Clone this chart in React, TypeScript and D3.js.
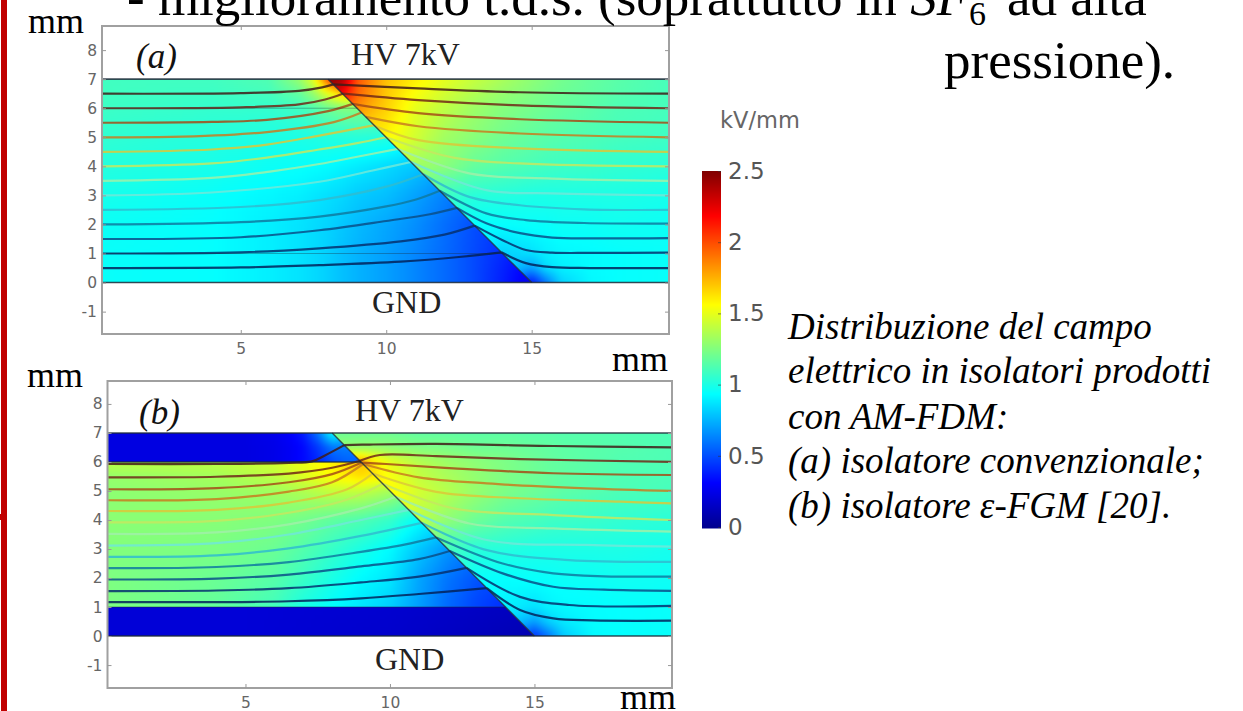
import React, { useEffect, useRef } from "react";
import * as d3 from "d3";

// field samples in kV/mm. rows follow the *Ys arrays, columns the *Xs arrays
const leftXsA = [0, 4, 6, 7, 7.5, 8, 8.5, 9, 10, 11, 12, 13, 14, 15, 16];
const leftYsA = [7, 6.5, 6, 5, 4, 3, 2, 1, 0.5, 0];
const leftValuesA = [
  [1.09, 1.09, 1.13, 1.3, 1.5, 2.0, 2.3, 2.3, 2.0, 1.8, 1.6, 1.4, 1.3, 1.2, 1.2],
  [1.09, 1.08, 1.1, 1.17, 1.3, 1.5, 1.7, 1.7, 1.6, 1.5, 1.4, 1.3, 1.2, 1.1, 1.1],
  [1.08, 1.06, 1.06, 1.09, 1.13, 1.2, 1.25, 1.25, 1.2, 1.1, 1.05, 1.0, 0.95, 0.9, 0.9],
  [1.05, 1.02, 1.0, 1.0, 1.01, 1.02, 1.02, 1.03, 1.02, 0.95, 0.9, 0.85, 0.8, 0.75, 0.75],
  [1.02, 0.99, 0.96, 0.95, 0.94, 0.93, 0.91, 0.89, 0.85, 0.8, 0.72, 0.66, 0.6, 0.55, 0.55],
  [0.99, 0.95, 0.92, 0.9, 0.88, 0.86, 0.84, 0.81, 0.78, 0.71, 0.63, 0.56, 0.5, 0.45, 0.45],
  [0.96, 0.94, 0.9, 0.87, 0.85, 0.83, 0.8, 0.77, 0.72, 0.66, 0.58, 0.5, 0.44, 0.4, 0.4],
  [0.95, 0.94, 0.9, 0.87, 0.85, 0.82, 0.78, 0.75, 0.7, 0.64, 0.57, 0.49, 0.41, 0.32, 0.3],
  [0.95, 0.94, 0.9, 0.87, 0.85, 0.82, 0.78, 0.75, 0.7, 0.64, 0.57, 0.49, 0.39, 0.28, 0.25],
  [0.95, 0.94, 0.9, 0.87, 0.85, 0.82, 0.78, 0.75, 0.7, 0.64, 0.57, 0.49, 0.38, 0.25, 0.2],
];

const rightXs = [8, 8.5, 9, 9.5, 10, 11, 12, 13, 14, 15, 15.5, 16, 17, 18, 20];
const rightYs = [7, 6.5, 6, 5, 4, 3, 2, 1, 0.5, 0];
const rightValuesA = [
  [2.5, 2.4, 2.0, 1.85, 1.72, 1.6, 1.5, 1.42, 1.35, 1.28, 1.25, 1.22, 1.18, 1.15, 1.1],
  [2.4, 2.2, 1.95, 1.82, 1.7, 1.55, 1.45, 1.37, 1.3, 1.25, 1.22, 1.2, 1.17, 1.14, 1.1],
  [2.2, 2.0, 1.85, 1.75, 1.68, 1.5, 1.4, 1.32, 1.26, 1.22, 1.2, 1.18, 1.15, 1.12, 1.1],
  [1.7, 1.65, 1.6, 1.6, 1.58, 1.45, 1.33, 1.27, 1.21, 1.17, 1.15, 1.14, 1.12, 1.1, 1.08],
  [1.5, 1.5, 1.47, 1.45, 1.45, 1.33, 1.27, 1.18, 1.14, 1.11, 1.09, 1.08, 1.07, 1.05, 1.03],
  [1.3, 1.3, 1.3, 1.3, 1.3, 1.2, 1.08, 1.03, 1.02, 1.0, 1.0, 1.0, 1.0, 1.0, 0.98],
  [1.1, 1.1, 1.1, 1.1, 1.1, 1.05, 1.0, 0.94, 0.94, 0.95, 0.95, 0.96, 0.96, 0.97, 0.96],
  [1.0, 1.0, 1.0, 1.0, 1.0, 1.0, 0.98, 0.95, 0.82, 0.86, 0.9, 0.92, 0.93, 0.94, 0.95],
  [0.9, 0.9, 0.9, 0.9, 0.9, 0.9, 0.9, 0.9, 0.85, 0.7, 0.85, 0.9, 0.93, 0.94, 0.95],
  [0.8, 0.8, 0.8, 0.8, 0.8, 0.8, 0.8, 0.8, 0.7, 0.35, 0.6, 0.82, 0.92, 0.94, 0.95],
];

const rightValuesB = [
  [1.2, 1.2, 1.2, 1.2, 1.2, 1.17, 1.17, 1.16, 1.16, 1.15, 1.15, 1.14, 1.14, 1.13, 1.12],
  [1.3, 1.3, 1.3, 1.3, 1.28, 1.25, 1.23, 1.2, 1.2, 1.18, 1.17, 1.16, 1.15, 1.14, 1.12],
  [1.8, 1.8, 1.8, 1.62, 1.5, 1.38, 1.32, 1.28, 1.24, 1.2, 1.18, 1.17, 1.15, 1.13, 1.12],
  [1.62, 1.62, 1.6, 1.62, 1.58, 1.45, 1.38, 1.3, 1.24, 1.2, 1.18, 1.16, 1.14, 1.12, 1.1],
  [1.5, 1.5, 1.5, 1.5, 1.5, 1.4, 1.28, 1.2, 1.14, 1.11, 1.09, 1.08, 1.07, 1.05, 1.03],
  [1.25, 1.25, 1.25, 1.25, 1.25, 1.25, 1.1, 1.03, 1.02, 1.0, 1.0, 1.0, 1.0, 1.0, 0.98],
  [1.05, 1.05, 1.05, 1.05, 1.05, 1.05, 1.05, 0.95, 0.94, 0.95, 0.95, 0.96, 0.96, 0.97, 0.96],
  [1.0, 1.0, 1.0, 1.0, 1.0, 1.0, 0.98, 0.95, 0.9, 0.86, 0.9, 0.92, 0.93, 0.94, 0.95],
  [0.9, 0.9, 0.9, 0.9, 0.9, 0.9, 0.9, 0.9, 0.85, 0.7, 0.82, 0.88, 0.93, 0.94, 0.95],
  [0.8, 0.8, 0.8, 0.8, 0.8, 0.8, 0.8, 0.8, 0.7, 0.42, 0.6, 0.8, 0.92, 0.94, 0.95],
];

const midXsB = [0, 4, 6, 7, 8, 9, 10, 11, 12, 13, 14, 15, 16];
const midYsB = [6, 5.5, 5, 4, 3, 2, 1];
const midValuesB = [
  [1.4, 1.4, 1.45, 1.52, 1.6, 1.72, 1.62, 1.5, 1.4, 1.3, 1.2, 1.1, 1.1],
  [1.3, 1.34, 1.4, 1.48, 1.56, 1.64, 1.56, 1.45, 1.3, 1.2, 1.1, 1.0, 1.0],
  [1.28, 1.31, 1.33, 1.37, 1.42, 1.42, 1.35, 1.25, 1.15, 1.05, 0.95, 0.85, 0.85],
  [1.28, 1.27, 1.25, 1.22, 1.17, 1.13, 1.07, 0.94, 0.85, 0.75, 0.7, 0.6, 0.6],
  [1.26, 1.24, 1.2, 1.14, 1.07, 1.0, 0.93, 0.8, 0.68, 0.6, 0.55, 0.5, 0.5],
  [1.25, 1.2, 1.15, 1.08, 1.0, 0.93, 0.88, 0.72, 0.6, 0.52, 0.48, 0.42, 0.42],
  [1.25, 1.18, 1.1, 1.0, 0.94, 0.88, 0.82, 0.7, 0.57, 0.48, 0.42, 0.38, 0.38],
];

const topXsB = [0, 5, 6, 6.5, 7, 7.5, 8, 8.5, 9];
const topYsB = [7, 6.5, 6];
const topValuesB = [
  [0.23, 0.23, 0.26, 0.3, 0.38, 0.6, 0.95, 0.8, 0.7],
  [0.23, 0.23, 0.25, 0.28, 0.33, 0.45, 0.6, 0.62, 0.6],
  [0.23, 0.23, 0.25, 0.28, 0.33, 0.4, 0.5, 0.55, 0.55],
];

const bottomXsB = [0, 5, 10, 13, 16];
const bottomYsB = [1, 0];
const bottomValuesB = [
  [0.2, 0.2, 0.18, 0.15, 0.12],
  [0.2, 0.2, 0.17, 0.13, 0.08],
];

// equipotentials in mm, one per potential
const potentials = [0.5, 1, 1.5, 2, 2.5, 3, 3.5, 4, 4.5, 5, 5.5, 6, 6.5];
const potentialColors = [
  "#04225a", "#06306f", "#0a4f88", "#0f7aa0", "#30bcd0", "#70e8d8", "#a0f0a8",
  "#c4e860", "#dcc838", "#c87c20", "#a44c18", "#702818", "#401c18",
];

const linesLeftA = [
  [[0.25, 0.5], [5, 0.52], [7.7, 0.6], [10.5, 0.72], [12.5, 0.88], [13.96, 1.04]],
  [[0.25, 1], [5, 1.04], [7.7, 1.18], [10.5, 1.42], [12, 1.65], [13.04, 1.96]],
  [[0.25, 1.5], [5, 1.56], [7.7, 1.8], [10, 2.12], [11.5, 2.35], [12.43, 2.57]],
  [[0.25, 2], [5, 2.08], [7.7, 2.27], [10, 2.62], [11, 2.85], [11.84, 3.16]],
  [[0.25, 2.5], [5, 2.6], [7.7, 2.84], [10, 3.3], [11.27, 3.73]],
  [[0.25, 3], [4, 3.1], [7.7, 3.47], [9.5, 3.85], [10.85, 4.15]],
  [[0.25, 3.5], [4, 3.6], [6, 3.82], [7.7, 4.08], [9, 4.33], [10.4, 4.6]],
  [[0.25, 4], [4, 4.1], [5.9, 4.3], [7.7, 4.58], [9, 4.8], [10, 5]],
  [[0.25, 4.5], [4, 4.58], [5.9, 4.75], [7.7, 5.06], [9.6, 5.42]],
  [[0.25, 5], [3, 5.02], [5.9, 5.18], [8.2, 5.52], [9.15, 5.85]],
  [[0.25, 5.5], [4, 5.53], [5.9, 5.6], [8, 5.9], [8.85, 6.15]],
  [[0.25, 6], [5, 6.03], [7, 6.13], [7.9, 6.3], [8.5, 6.5]],
  [[0.25, 6.5], [5, 6.52], [7, 6.6], [7.8, 6.72], [8.18, 6.82]],
];
const linesRightA = [
  [[13.96, 1.04], [14.8, 0.67], [15.7, 0.53], [17, 0.5], [19.7, 0.5]],
  [[13.04, 1.96], [14, 1.46], [14.8, 1.12], [15.7, 1.03], [17, 1.02], [19.7, 1.03]],
  [[12.43, 2.57], [13.44, 2.04], [14.6, 1.7], [15.7, 1.55], [17, 1.52], [19.7, 1.53]],
  [[11.84, 3.16], [13.44, 2.38], [14.8, 2.15], [16.8, 2.05], [19.7, 2.03]],
  [[11.27, 3.73], [12.85, 2.95], [14.6, 2.66], [16.8, 2.52], [19.7, 2.5]],
  [[10.85, 4.15], [13.44, 3.18], [15.7, 3.07], [19.7, 3.0]],
  [[10.4, 4.6], [12.85, 3.76], [15.7, 3.58], [19.7, 3.5]],
  [[10, 5], [12.3, 4.3], [14.6, 4.1], [19.7, 4.0]],
  [[9.6, 5.4], [11.1, 4.9], [14.6, 4.62], [19.7, 4.5]],
  [[9.3, 5.7], [11.1, 5.38], [14.6, 5.13], [19.7, 5.0]],
  [[8.85, 6.15], [11.1, 5.83], [14.6, 5.62], [19.7, 5.5]],
  [[8.5, 6.5], [11.1, 6.28], [14.6, 6.1], [19.7, 6.0]],
  [[8.18, 6.82], [11.1, 6.68], [14.6, 6.55], [19.7, 6.5]],
];

const linesLeftB = [
  [[0.25, 1.17], [4, 1.17], [6.5, 1.2], [9, 1.3], [11, 1.45], [13.35, 1.65]],
  [[0.25, 1.55], [4, 1.57], [6.5, 1.65], [9, 1.85], [11, 2.05], [12.65, 2.35]],
  [[0.25, 1.95], [4, 1.98], [6.5, 2.12], [9, 2.4], [11, 2.65], [12.07, 2.93]],
  [[0.25, 2.34], [4, 2.38], [6.5, 2.55], [9, 2.9], [10.5, 3.15], [11.6, 3.4]],
  [[0.25, 2.73], [4, 2.78], [6.5, 3.02], [9, 3.45], [11.1, 3.9]],
  [[0.25, 3.12], [4, 3.2], [6.5, 3.5], [9, 4], [10.65, 4.35]],
  [[0.25, 3.52], [4, 3.57], [6.5, 3.85], [9, 4.4], [10.2, 4.8]],
  [[0.25, 3.92], [4, 3.97], [6.5, 4.25], [8.5, 4.7], [9.75, 5.25]],
  [[0.25, 4.31], [4, 4.35], [6.5, 4.6], [8.5, 5.05], [9.4, 5.6]],
  [[0.25, 4.68], [4, 4.72], [6.5, 4.98], [8, 5.3], [9.07, 5.93]],
  [[0.25, 5.06], [4, 5.1], [6.5, 5.3], [8, 5.58], [9.02, 5.98]],
  [[0.25, 5.47], [4, 5.49], [6.5, 5.6], [8, 5.8], [8.96, 6.04]],
  [[0.25, 5.93], [4, 5.93], [6.5, 5.97], [7.3, 6.02], [7.7, 6.2], [8.42, 6.58]],
];
const linesRightB = [
  [[13.35, 1.65], [14.5, 0.9], [15.65, 0.61], [17, 0.54], [19.76, 0.53]],
  [[12.65, 2.35], [14.5, 1.35], [16.2, 1.07], [19.76, 1.04]],
  [[12.07, 2.93], [13.9, 2.16], [15.65, 1.7], [17.4, 1.6], [19.76, 1.56]],
  [[11.6, 3.4], [13.9, 2.5], [15.65, 2.16], [17.4, 2.06], [19.76, 2.05]],
  [[11.1, 3.9], [13.35, 2.96], [16.2, 2.62], [19.76, 2.56]],
  [[10.65, 4.35], [13.35, 3.31], [16.8, 3.14], [19.76, 3.08]],
  [[10.2, 4.8], [12.75, 3.88], [15.65, 3.71], [19.76, 3.6]],
  [[9.75, 5.25], [12.2, 4.4], [15.65, 4.17], [19.76, 4.0]],
  [[9.4, 5.6], [11.6, 4.97], [14.5, 4.75], [18, 4.63], [19.76, 4.57]],
  [[9.07, 5.93], [11, 5.47], [13.35, 5.26], [16.8, 5.09], [19.76, 5.0]],
  [[9.02, 5.98], [9.87, 5.93], [12.2, 5.78], [15.65, 5.61], [19.76, 5.55]],
  [[8.96, 6.04], [9.65, 6.24], [11.6, 6.2], [14.5, 6.1], [19.76, 6.0]],
  [[8.42, 6.58], [9.3, 6.6], [11.6, 6.62], [15.65, 6.55], [19.76, 6.5]],
];

const xTicks = [5, 10, 15];
const yTicks = [-1, 0, 1, 2, 3, 4, 5, 6, 7, 8];
const barTicks = [0, 0.5, 1, 1.5, 2, 2.5];
const jetStops = ["#00008f", "#0000ff", "#00ffff", "#ffff00", "#ff0000", "#800000"];
const jetValues = [0, 0.3125, 0.9375, 1.5625, 2.1875, 2.5];

const captionLines = [
  "Distribuzione del campo",
  "elettrico in isolatori prodotti",
  "con AM-FDM:",
  "(a) isolatore convenzionale;",
  "(b) isolatore ε-FGM [20].",
];
const captionBaselines = [339, 383, 429, 473, 518];

const jet = d3.scaleLinear<string>().domain(jetValues).range(jetStops).clamp(true);
const lineColor = d3.scaleOrdinal<number, string>().domain(potentials).range(potentialColors);
const SERIF = "'Liberation Serif', serif";
const SANS = "'DejaVu Sans', sans-serif";
const CELL = 4;

function fieldAt(xs, ys, values) {
  const rows = values.map((row) => d3.scaleLinear().domain(xs).range(row).clamp(true));
  return (x, y) => d3.scaleLinear().domain(ys).range(rows.map((r) => r(x))).clamp(true)(y);
}

function drawField(g, id, field, polygon, x, y) {
  const pts = polygon.map((p) => [x(p[0]), y(p[1])]);
  g.append("clipPath").attr("id", id).append("polygon").attr("points", pts.join(" "));
  const cells = g.append("g").attr("clip-path", `url(#${id})`).append("g").attr("filter", "url(#soft)");
  const value = fieldAt(field.xs, field.ys, field.values);
  const px = d3.range(d3.min(pts, (p) => p[0]) - 8, d3.max(pts, (p) => p[0]) + 8, CELL);
  const py = d3.range(d3.min(pts, (p) => p[1]) - 8, d3.max(pts, (p) => p[1]) + 8, CELL);
  py.forEach((cy) => {
    px.forEach((cx) => {
      cells
        .append("rect")
        .attr("x", cx)
        .attr("y", cy)
        .attr("width", CELL + 0.5)
        .attr("height", CELL + 0.5)
        .attr("fill", jet(value(x.invert(cx + CELL / 2), y.invert(cy + CELL / 2))));
    });
  });
}

function drawPanel(svg, p) {
  const { x, y } = p;
  const g = svg.append("g");
  const [xMin, xMax] = x.domain();
  const line = d3
    .line()
    .x((d) => x(d[0]))
    .y((d) => y(d[1]))
    .curve(d3.curveCatmullRom.alpha(0.5));

  p.fields.forEach((f, i) => drawField(g, `${p.id}-f${i}`, f, f.polygon, x, y));

  // equipotentials either side of the insulator edge
  const lines = g.append("g").attr("fill", "none").attr("filter", "url(#softLine)");
  [p.linesLeft, p.linesRight].forEach((set) => {
    set.forEach((pts, i) => {
      lines
        .append("path")
        .attr("d", line(pts))
        .attr("stroke", lineColor(potentials[i]))
        .attr("stroke-width", 2.2)
        .attr("stroke-opacity", 0.85);
    });
  });

  // layer boundaries, electrodes and the insulator edge
  p.boundaries.forEach((b) => {
    g.append("line")
      .attr("x1", x(b[0][0]))
      .attr("y1", y(b[0][1]))
      .attr("x2", x(b[1][0]))
      .attr("y2", y(b[1][1]))
      .attr("stroke", "#1c2a3a")
      .attr("stroke-width", b[2])
      .attr("stroke-opacity", b[3]);
  });

  g.append("rect")
    .attr("x", x(xMin))
    .attr("y", y.range()[1])
    .attr("width", x(xMax) - x(xMin))
    .attr("height", y.range()[0] - y.range()[1])
    .attr("fill", "none")
    .attr("stroke", "#a0a0a0")
    .attr("stroke-width", 2);

  const tickFont = (s) =>
    s.call((a) => a.select(".domain").remove())
      .call((a) => a.selectAll("line").attr("stroke", "#999"))
      .call((a) =>
        a
          .selectAll("text")
          .attr("font-family", SANS)
          .attr("font-size", 15.5)
          .attr("fill", "#666")
      );

  g.append("g")
    .attr("transform", `translate(0,${y.range()[0]})`)
    .call(d3.axisBottom(x).tickValues(xTicks).tickSizeInner(-4).tickPadding(9).tickSizeOuter(0).tickFormat(String))
    .call(tickFont);
  g.append("g")
    .attr("transform", `translate(0,${y.range()[1]})`)
    .call(d3.axisTop(x).tickValues(xTicks).tickSizeInner(-4).tickFormat(() => "").tickSizeOuter(0))
    .call(tickFont);
  g.append("g")
    .attr("transform", `translate(${x(xMin)},0)`)
    .call(d3.axisLeft(y).tickValues(yTicks).tickSizeInner(-4).tickPadding(5).tickSizeOuter(0).tickFormat(String))
    .call(tickFont);
  g.append("g")
    .attr("transform", `translate(${x(xMax)},0)`)
    .call(d3.axisRight(y).tickValues(yTicks).tickSizeInner(-4).tickFormat(() => "").tickSizeOuter(0))
    .call(tickFont);

  p.labels.forEach((l) => {
    g.append("text")
      .attr("x", l.x)
      .attr("y", l.y)
      .attr("font-family", SERIF)
      .attr("font-size", l.size)
      .attr("font-style", l.italic ? "italic" : "normal")
      .attr("fill", l.fill)
      .text(l.text);
  });
}

export default function App() {
  const ref = useRef<SVGSVGElement>(null);

  useEffect(() => {
    const svg = d3.select(ref.current);
    svg.selectAll("*").remove();

    const defs = svg.append("defs");
    const addBlur = (id, s) =>
      defs
        .append("filter")
        .attr("id", id)
        .attr("filterUnits", "userSpaceOnUse")
        .attr("x", 0)
        .attr("y", 0)
        .attr("width", 1243)
        .attr("height", 711)
        .attr("color-interpolation-filters", "sRGB")
        .append("feGaussianBlur")
        .attr("stdDeviation", s);
    addBlur("soft", 2);
    addBlur("softLine", 0.5);

    // red rule of the slide
    svg.append("rect").attr("x", 1).attr("y", 0).attr("width", 6).attr("height", 711).attr("fill", "#c00000");
    svg.append("rect").attr("x", 0).attr("y", 514).attr("width", 2).attr("height", 6).attr("fill", "#c00000");

    drawPanel(svg, {
      id: "a",
      x: d3.scaleLinear().domain([0.23, 19.72]).range([102, 669]),
      y: d3.scaleLinear().domain([-1.77, 8.83]).range([334, 26]),
      fields: [
        {
          xs: leftXsA,
          ys: leftYsA,
          values: leftValuesA,
          polygon: [[0.23, 7], [8, 7], [15, 0], [0.23, 0]],
        },
        {
          xs: rightXs,
          ys: rightYs,
          values: rightValuesA,
          polygon: [[8, 7], [19.72, 7], [19.72, 0], [15, 0]],
        },
      ],
      linesLeft: linesLeftA,
      linesRight: linesRightA,
      boundaries: [
        [[0.23, 7], [19.72, 7], 1.6, 0.85],
        [[0.23, 0], [19.72, 0], 1.6, 0.85],
        [[8, 7], [15, 0], 1.4, 0.8],
        [[0.23, 6], [9, 6], 1, 0.35],
        [[0.23, 1], [14, 1], 1, 0.35],
      ],
      labels: [
        { text: "(a)", x: 136, y: 68, size: 35, italic: true, fill: "#111" },
        { text: "HV 7kV", x: 351, y: 65, size: 32, fill: "#222" },
        { text: "GND", x: 372, y: 313, size: 32, fill: "#222" },
      ],
    });

    drawPanel(svg, {
      id: "b",
      x: d3.scaleLinear().domain([0.225, 19.76]).range([107.5, 672]),
      y: d3.scaleLinear().domain([-1.79, 8.79]).range([688, 381]),
      fields: [
        {
          xs: midXsB,
          ys: midYsB,
          values: midValuesB,
          polygon: [[0.225, 6], [9, 6], [14, 1], [0.225, 1]],
        },
        {
          xs: topXsB,
          ys: topYsB,
          values: topValuesB,
          polygon: [[0.225, 7], [8, 7], [9, 6], [0.225, 6]],
        },
        {
          xs: bottomXsB,
          ys: bottomYsB,
          values: bottomValuesB,
          polygon: [[0.225, 1], [14, 1], [15, 0], [0.225, 0]],
        },
        {
          xs: rightXs,
          ys: rightYs,
          values: rightValuesB,
          polygon: [[8, 7], [19.76, 7], [19.76, 0], [15, 0]],
        },
      ],
      linesLeft: linesLeftB,
      linesRight: linesRightB,
      boundaries: [
        [[0.225, 7], [19.76, 7], 1.6, 0.85],
        [[0.225, 0], [19.76, 0], 1.6, 0.85],
        [[8, 7], [15, 0], 1.4, 0.8],
        [[0.225, 6], [9, 6], 1.4, 0.8],
        [[0.225, 1], [14, 1], 1, 0.5],
      ],
      labels: [
        { text: "(b)", x: 139, y: 424, size: 35, italic: true, fill: "#111" },
        { text: "HV 7kV", x: 355, y: 421, size: 32, fill: "#222" },
        { text: "GND", x: 375, y: 670, size: 32, fill: "#222" },
      ],
    });

    // colour bar
    const barY = d3.scaleLinear().domain([0, 2.5]).range([527, 171]);
    const bar = svg.append("g").attr("filter", "url(#softLine)");
    d3.range(171, 528).forEach((py) => {
      bar
        .append("rect")
        .attr("x", 702)
        .attr("y", py)
        .attr("width", 19)
        .attr("height", 1.5)
        .attr("fill", jet(barY.invert(py)));
    });
    const barAxis = svg
      .append("g")
      .attr("transform", "translate(721,0)")
      .call(d3.axisRight(barY).tickValues(barTicks).tickSizeInner(-3).tickPadding(7).tickSizeOuter(0).tickFormat(d3.format("~g")));
    barAxis.select(".domain").remove();
    barAxis.selectAll("line").attr("stroke", "#333").attr("stroke-opacity", 0.6);
    barAxis.selectAll("text").attr("font-family", SANS).attr("font-size", 23).attr("fill", "#555");

    svg
      .append("text")
      .attr("x", 720)
      .attr("y", 128)
      .attr("font-family", SANS)
      .attr("font-size", 22.5)
      .attr("fill", "#666")
      .text("kV/mm");

    const serifText = (text, tx, ty, size, italic = false) =>
      svg
        .append("text")
        .attr("x", tx)
        .attr("y", ty)
        .attr("font-family", SERIF)
        .attr("font-size", size)
        .attr("font-style", italic ? "italic" : "normal")
        .attr("fill", "#000")
        .text(text);

    // axis unit labels
    serifText("mm", 28, 33, 36);
    serifText("mm", 612, 371, 36);
    serifText("mm", 27, 387, 36);
    serifText("mm", 620, 709, 36);

    captionLines.forEach((t, i) => serifText(t, 788, captionBaselines[i], 37, true));

    // slide text cut by the top of the frame
    const head = serifText("- miglioramento t.d.s. (soprattutto in ", 127, 15, 53);
    head.append("tspan").attr("font-style", "italic").text("SF");
    head.append("tspan").attr("font-size", 34).attr("dy", 10).text("6");
    head.append("tspan").attr("dy", -10).attr("x", 1007).text("ad alta");
    serifText("pressione).", 944, 78, 53);
  }, []);

  return (
    <svg
      ref={ref}
      width={1243}
      height={711}
      viewBox="0 0 1243 711"
      style={{ position: "absolute", left: 0, top: 0, display: "block", background: "#fff" }}
    />
  );
}
